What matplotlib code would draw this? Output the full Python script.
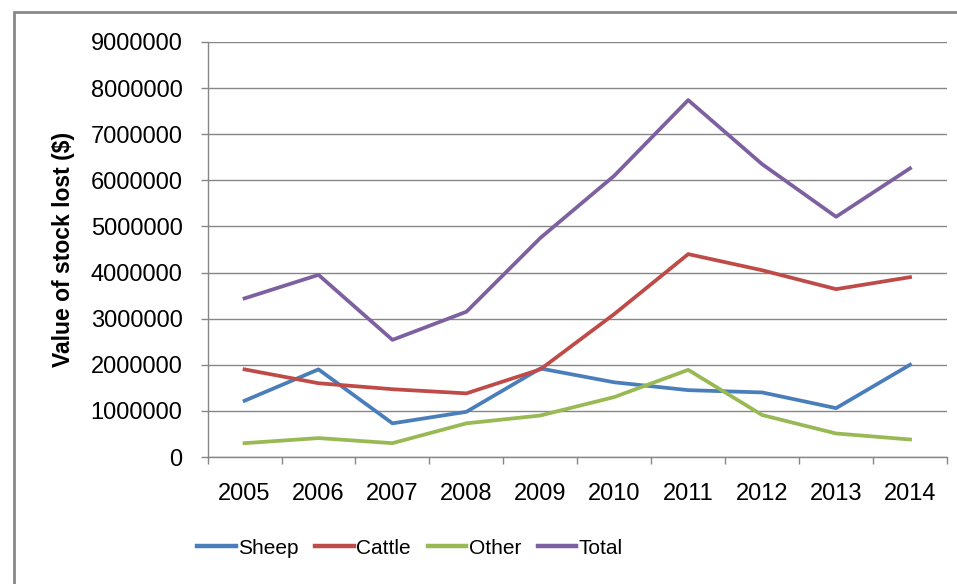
import matplotlib
matplotlib.use("Agg")
import matplotlib.pyplot as plt
from matplotlib.lines import Line2D
import numpy as np

# -----------------------------
# Data
# -----------------------------
years = ["2005", "2006", "2007", "2008", "2009", "2010", "2011", "2012", "2013", "2014"]
sheep = [1220000, 1900000, 730000, 980000, 1920000, 1620000, 1450000, 1400000, 1060000, 2000000]
cattle = [1900000, 1600000, 1470000, 1380000, 1900000, 3100000, 4400000, 4050000, 3640000, 3900000]
other = [300000, 410000, 300000, 730000, 900000, 1300000, 1890000, 910000, 510000, 380000]
total = [3440000, 3950000, 2540000, 3150000, 4750000, 6100000, 7740000, 6350000, 5210000, 6260000]

series_names = ["Sheep", "Cattle", "Other", "Total"]
series_colors = ["#4A7EBB", "#BE4B48", "#98B954", "#7D60A0"]

plt.rcParams["font.family"] = ["Liberation Sans", "DejaVu Sans"]

fig = plt.figure(figsize=(9.57, 5.84), dpi=100)
ax = fig.add_axes([207.6 / 957, 1 - 457 / 584, (947 - 207.6) / 957, (457 - 42) / 584])

x = np.arange(len(years))
for vals, name, col in zip([sheep, cattle, other, total], series_names, series_colors):
    ax.plot(x, vals, color=col, linewidth=2.7, label=name)

ax.set_xlim(-0.5, len(years) - 0.5)
ax.set_ylim(0, 9000000)
ax.set_yticks(np.arange(0, 9000001, 1000000))
ax.set_yticklabels([str(v) for v in range(0, 9000001, 1000000)])
ax.set_xticks(x)
ax.set_xticklabels(years)
ax.set_xticks(np.arange(-0.5, len(years), 1.0), minor=True)

ax.grid(True, axis="y", color="#868686", linewidth=1.0)
ax.set_axisbelow(True)
for side in ["top", "right"]:
    ax.spines[side].set_visible(False)
for side in ["left", "bottom"]:
    ax.spines[side].set_color("#868686")
    ax.spines[side].set_linewidth(1.0)

ax.tick_params(axis="y", direction="out", length=5, width=1, color="#868686",
               labelsize=17, pad=13, labelcolor="#000000")
ax.tick_params(axis="x", which="major", length=0, labelsize=17, pad=19)
ax.tick_params(axis="x", which="minor", direction="out", length=5, width=1, color="#868686")

ax.set_ylabel("Value of stock lost ($)", fontsize=16.5, fontweight="bold", labelpad=11)

handles = [Line2D([0], [0], color=c, linewidth=3.2) for c in series_colors]
fig.legend(handles, series_names, loc="center", bbox_to_anchor=(410 / 957, 1 - 548 / 584),
           ncol=4, frameon=False, fontsize=15, handlelength=1.85, handletextpad=0.12,
           columnspacing=0.8)

# outer chart frame
fig.patches.append(plt.Rectangle((14 / 957, -0.05), 1.0, 1 - 12 / 584 + 0.05,
                                 transform=fig.transFigure, fill=False,
                                 edgecolor="#888888", linewidth=2, zorder=0))

fig.savefig("out.png", dpi=100)
